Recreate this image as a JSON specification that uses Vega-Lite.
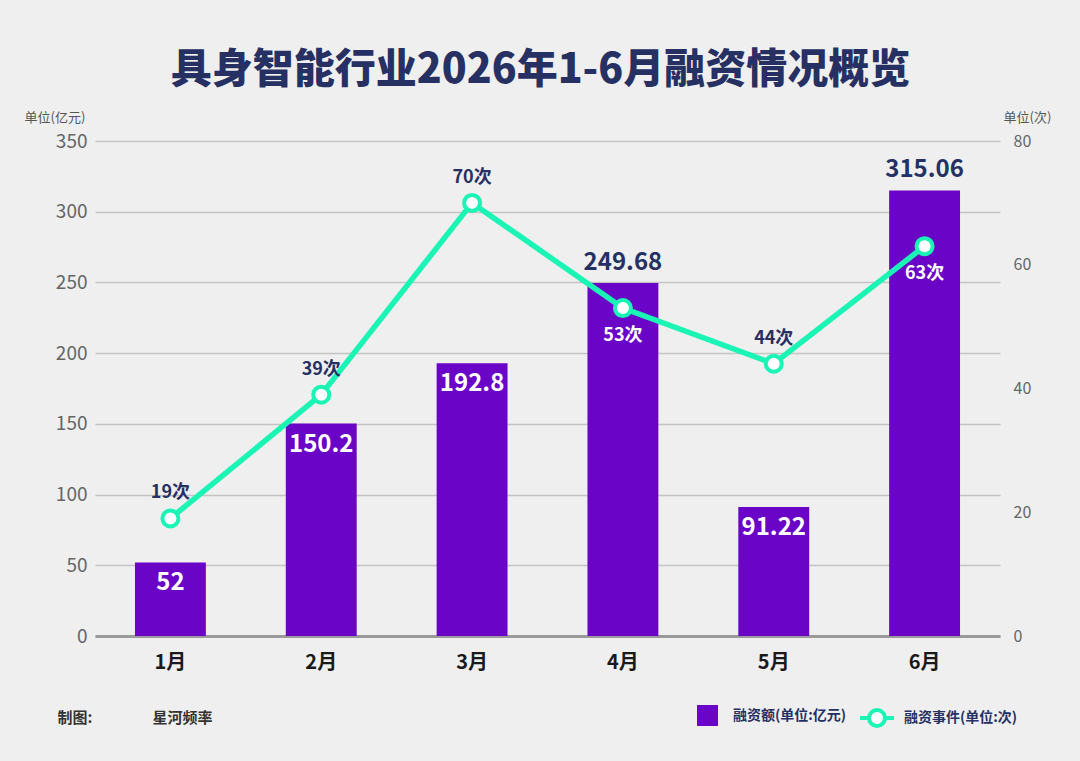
{
  "$schema": "https://vega.github.io/schema/vega-lite/v6.json",
  "width": 905,
  "height": 495,
  "autosize": {"type": "none"},
  "padding": {"left": 95, "top": 141, "right": 80, "bottom": 125},
  "background": "#EFEFEF",
  "config": {"font": "Noto Sans CJK SC", "view": {"stroke": null}},
  "title": {
    "text": "具身智能行业2026年1-6月融资情况概览",
    "fontSize": 41,
    "fontWeight": 900,
    "color": "#263063",
    "anchor": "middle",
    "frame": "group",
    "offset": 19,
    "dx": -7
  },
  "data": {
    "values": [
      {"month": "1月", "amount": 52, "events": 19, "label": "19次"},
      {"month": "2月", "amount": 150.2, "events": 39, "label": "39次"},
      {"month": "3月", "amount": 192.8, "events": 70, "label": "70次"},
      {"month": "4月", "amount": 249.68, "events": 53, "label": "53次"},
      {"month": "5月", "amount": 91.22, "events": 44, "label": "44次"},
      {"month": "6月", "amount": 315.06, "events": 63, "label": "63次"}
    ]
  },
  "encoding": {
    "x": {
      "field": "month",
      "type": "nominal",
      "sort": null,
      "scale": {"paddingInner": 0.53, "paddingOuter": 0.265},
      "axis": {
        "title": "制图:\u2003\u2003\u2003\u2003星河频率",
        "titleX": -38,
        "titleY": 81,
        "titleAlign": "left",
        "titleAnchor": null,
        "titleBaseline": "middle",
        "titleFontSize": 15,
        "titleFontWeight": "bold",
        "titleColor": "#333333",
        "labelAngle": 0,
        "labelFontSize": 20,
        "labelFontWeight": "bold",
        "labelColor": "#1A1A1A",
        "labelPadding": 16,
        "ticks": false,
        "domainColor": "#9A9A9A",
        "domainWidth": 3
      }
    }
  },
  "layer": [
    {
      "encoding": {
        "y": {
          "field": "amount",
          "type": "quantitative",
          "scale": {"domain": [0, 350], "nice": false},
          "axis": {
            "title": "单位(亿元)",
            "titleAngle": 0,
            "titleX": -71,
            "titleY": -24,
            "titleAlign": "left",
            "titleBaseline": "middle",
            "titleFontSize": 13,
            "titleFontWeight": "normal",
            "titleColor": "#555555",
            "values": [0, 50, 100, 150, 200, 250, 300, 350],
            "labelFontSize": 19,
            "labelColor": "#666666",
            "labelPadding": 8,
            "ticks": false,
            "domain": false,
            "grid": true,
            "gridColor": "#C4C4C4",
            "gridWidth": 1.5
          }
        }
      },
      "layer": [
        {
          "mark": {"type": "bar", "color": "#6A05C8"},
          "encoding": {
            "fill": {
              "datum": "融资额",
              "scale": {"range": ["#6A05C8"]},
              "legend": {
                "title": null,
                "orient": "none",
                "legendX": 602,
                "legendY": 564,
                "padding": 0,
                "symbolType": "square",
                "symbolSize": 441,
                "symbolFillColor": "#7F00FF",
                "labelOffset": 15,
                "labelFontSize": 14,
                "labelFontWeight": "bold",
                "labelColor": "#263063",
                "labelExpr": "datum.label + '(单位:亿元)'",
                "encode": {"symbols": {"enter": {"fill": {"value": "#7F00FF"}}, "update": {"fill": {"value": "#7F00FF"}, "strokeWidth": {"value": 0}}}}
              }
            }
          }
        },
        {
          "transform": [{"filter": "datum.amount < 200"}],
          "mark": {"type": "text", "color": "white", "fontSize": 24, "fontWeight": "bold", "baseline": "middle", "dy": 21},
          "encoding": {"text": {"field": "amount", "type": "nominal"}}
        },
        {
          "transform": [{"filter": "datum.amount >= 200"}],
          "mark": {"type": "text", "color": "#263063", "fontSize": 24, "fontWeight": "bold", "baseline": "middle", "dy": -20},
          "encoding": {"text": {"field": "amount", "type": "nominal"}}
        }
      ]
    },
    {
      "encoding": {
        "y": {
          "field": "events",
          "type": "quantitative",
          "scale": {"domain": [0, 80], "nice": false},
          "axis": {
            "orient": "right",
            "title": "单位(次)",
            "titleAngle": 0,
            "titleX": 3,
            "titleY": -24,
            "titleAlign": "left",
            "titleBaseline": "middle",
            "titleFontSize": 13,
            "titleFontWeight": "normal",
            "titleColor": "#555555",
            "values": [0, 20, 40, 60, 80],
            "labelFontSize": 16,
            "labelColor": "#666666",
            "labelPadding": 13,
            "ticks": false,
            "domain": false,
            "grid": false
          }
        }
      },
      "layer": [
        {
          "mark": {"type": "line", "strokeWidth": 5.5},
          "encoding": {
            "stroke": {
              "datum": "融资事件",
              "scale": {"range": ["#1AF4B4"]},
              "legend": {
                "title": null,
                "orient": "none",
                "legendX": 763,
                "legendY": 558,
                "padding": 0,
                "symbolType": "M-1,0L-0.47,0M0.47,0L1,0M-0.47,0A0.47,0.47,0,1,0,0.47,0A0.47,0.47,0,1,0,-0.47,0Z",
                "symbolSize": 1156,
                "symbolStrokeWidth": 4,
                "labelOffset": 8,
                "labelFontSize": 14,
                "labelFontWeight": "bold",
                "labelColor": "#263063",
                "labelExpr": "datum.label + '(单位:次)'",
                "encode": {"symbols": {"update": {"fill": {"value": "white"}, "strokeWidth": {"value": 4}}}}
              }
            }
          }
        },
        {
          "mark": {"type": "point", "shape": "circle", "filled": true, "fill": "white", "stroke": "#1AF4B4", "strokeWidth": 4, "size": 256, "opacity": 1}
        },
        {
          "transform": [{"filter": "datum.events / 80 >= datum.amount / 350"}],
          "mark": {"type": "text", "color": "#263063", "fontSize": 18, "fontWeight": "bold", "baseline": "middle", "dy": -25},
          "encoding": {"text": {"field": "label", "type": "nominal"}}
        },
        {
          "transform": [{"filter": "datum.events / 80 < datum.amount / 350"}],
          "mark": {"type": "text", "color": "white", "fontSize": 18, "fontWeight": "bold", "baseline": "middle", "dy": 28},
          "encoding": {"text": {"field": "label", "type": "nominal"}}
        }
      ]
    }
  ],
  "resolve": {"scale": {"y": "independent", "fill": "independent", "stroke": "independent"}}
}
